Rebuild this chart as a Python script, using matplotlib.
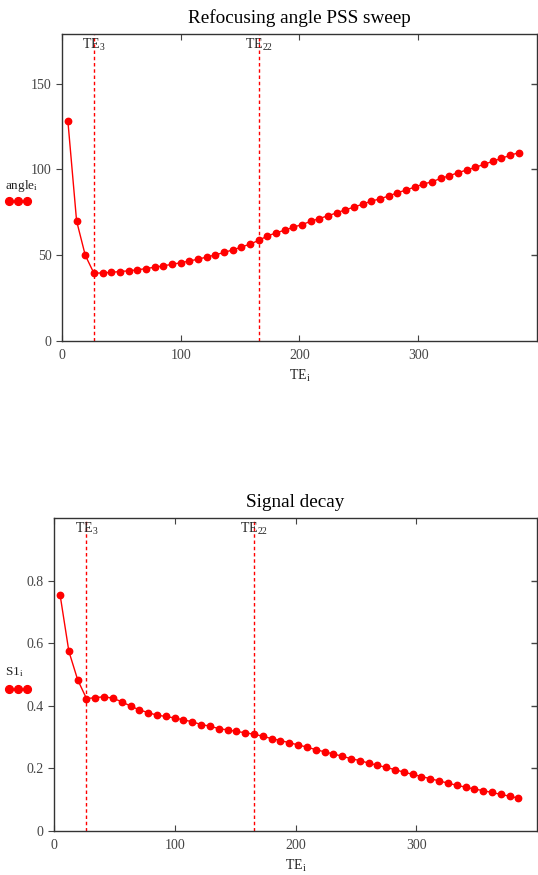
import matplotlib
matplotlib.use("Agg")
import matplotlib.pyplot as plt

# echo times (ms), i = 0..52
TE = [5.0, 12.3, 19.6, 26.9, 34.2, 41.5, 48.8, 56.1, 63.4, 70.7,
      78.0, 85.3, 92.6, 99.9, 107.2, 114.5, 121.8, 129.1, 136.4, 143.7,
      151.0, 158.3, 165.6, 172.9, 180.2, 187.5, 194.8, 202.1, 209.4, 216.7,
      224.0, 231.3, 238.6, 245.9, 253.2, 260.5, 267.8, 275.1, 282.4, 289.7,
      297.0, 304.3, 311.6, 318.9, 326.2, 333.5, 340.8, 348.1, 355.4, 362.7,
      370.0, 377.3, 384.6]

angle = [128.0, 70.0, 50.0, 39.5, 39.7, 40.0, 40.5, 40.9, 41.5, 42.2,
         43.0, 43.8, 44.7, 45.6, 46.6, 47.7, 48.9, 50.2, 51.6, 53.1,
         54.7, 56.5, 58.6, 61.2, 63.0, 64.6, 66.3, 67.9, 69.7, 71.4,
         73.0, 74.7, 76.5, 78.0, 79.8, 81.5, 82.9, 84.5, 86.4, 88.0,
         89.7, 91.5, 92.8, 94.8, 96.3, 98.1, 99.7, 101.2, 103.0, 104.7,
         106.5, 108.2, 109.8]

S1 = [0.755, 0.574, 0.483, 0.423, 0.426, 0.429, 0.424, 0.413, 0.399, 0.387,
      0.378, 0.370, 0.366, 0.361, 0.355, 0.349, 0.340, 0.335, 0.327, 0.323,
      0.318, 0.314, 0.309, 0.303, 0.295, 0.289, 0.282, 0.275, 0.268, 0.260,
      0.253, 0.246, 0.239, 0.231, 0.225, 0.217, 0.210, 0.203, 0.196, 0.188,
      0.181, 0.174, 0.167, 0.160, 0.153, 0.146, 0.140, 0.134, 0.129, 0.123,
      0.117, 0.111, 0.105]

marked = [3, 22]

plt.rcParams['font.family'] = ['Liberation Serif', 'DejaVu Serif']
plt.rcParams['mathtext.fontset'] = 'custom'
plt.rcParams['mathtext.rm'] = 'Liberation Serif'
plt.rcParams['mathtext.it'] = 'Liberation Serif'

fig = plt.figure(figsize=(5.38, 8.75), dpi=100)
ax1 = fig.add_axes([0.1152, 0.6103, 0.8829, 0.3509])
ax2 = fig.add_axes([0.1004, 0.0503, 0.8978, 0.3577])


def draw(ax, y, ylim, yticks, title, ylab, lab_y, mark_y):
    ax.plot(TE, y, color='red', lw=1, marker='o', ms=4.6, mec='red', mfc='red')
    for k in marked:
        ax.axvline(TE[k], color='red', ls=(0, (2.5, 2)), lw=1)
        ax.text(TE[k], ylim[1] * 0.99, r'TE$_{%d}$' % k, ha='center', va='top',
                fontsize=10, color='#222222')
    ax.set_xlim(0, 400)
    ax.set_ylim(*ylim)
    ax.set_xticks([0, 100, 200, 300])
    ax.set_yticks(yticks)
    ax.set_title(title, fontsize=13.8, pad=8)
    ax.set_xlabel(r'TE$_{\rm i}$', fontsize=10, labelpad=4, color='#222222')
    ax.tick_params(axis='x', direction='in', top=True, length=4, labelsize=10,
                   colors='#444444', pad=6)
    ax.tick_params(axis='y', direction='out', right=False, length=4, labelsize=10,
                   colors='#444444')
    for yt in yticks[1:]:
        ax.plot([1], [yt], transform=ax.get_yaxis_transform(), marker=0,
                ms=4, color='#444444', clip_on=False)
    for s in ax.spines.values():
        s.set_color('#333333')
        s.set_linewidth(1)
    fig.text(0.01, lab_y, ylab, fontsize=9.5, ha='left', va='center', color='#222222')
    fig.lines.append(plt.Line2D([0.017, 0.034, 0.051], [mark_y] * 3, transform=fig.transFigure,
                                color='red', marker='o', ms=5.6, lw=1))


draw(ax1, angle, (0, 179), [0, 50, 100, 150], 'Refocusing angle PSS sweep',
     r'angle$_{\rm i}$', 1 - 186 / 875, 1 - 201 / 875)
draw(ax2, S1, (0, 1.0), [0, 0.2, 0.4, 0.6, 0.8], 'Signal decay',
     r'S1$_{\rm i}$', 1 - 672 / 875, 1 - 689 / 875)
ax2.set_yticklabels(['0', '0.2', '0.4', '0.6', '0.8'])

fig.savefig('out.png', dpi=100)
